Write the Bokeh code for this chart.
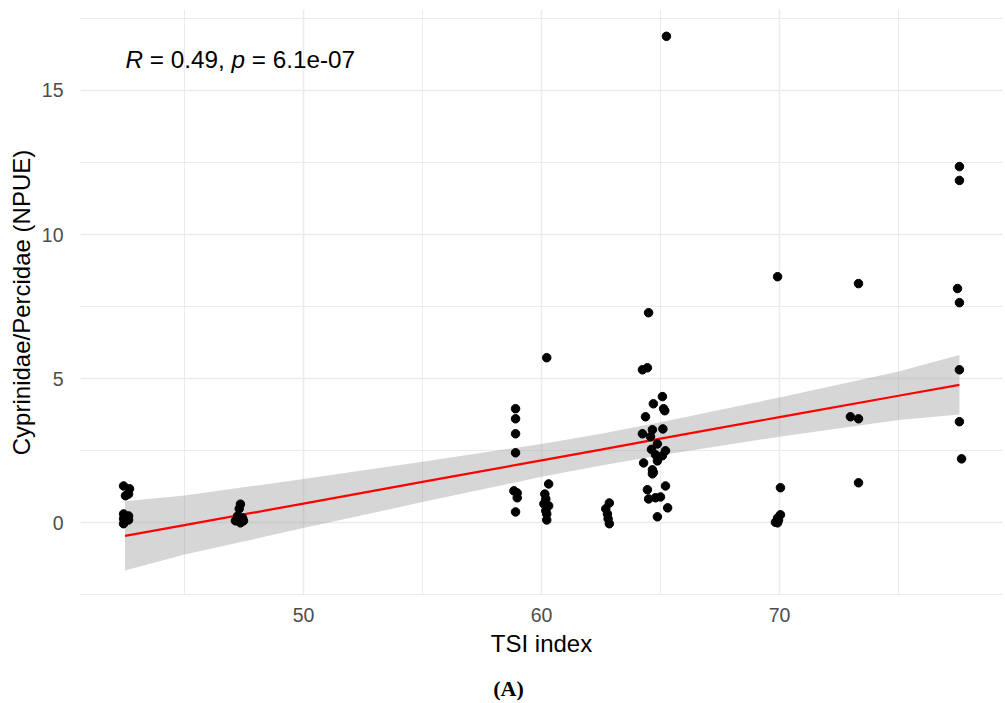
from bokeh.plotting import figure
from bokeh.models import Range1d, FixedTicker, Label, ColumnDataSource, LinearAxis
from bokeh.embed import file_html
from bokeh.resources import INLINE

# ---- data ----
tsi = [
    42.44, 42.69, 42.65, 42.52, 42.44, 42.65, 42.44, 42.65, 42.44,
    47.35, 47.30, 47.23, 47.44, 47.14, 47.35, 47.48,
    58.91, 58.91, 58.91, 58.91, 58.84, 58.98, 58.98, 58.91,
    60.22, 60.30, 60.14, 60.18, 60.10, 60.30, 60.18, 60.22, 60.22,
    62.85, 62.70, 62.77, 62.80, 62.85,
    64.50, 64.24, 64.45, 65.08, 64.70, 65.13, 65.18, 64.37, 65.10, 64.66,
    64.24, 64.58, 64.87, 65.21, 64.79, 65.08, 64.87, 64.29, 64.66, 64.66,
    65.21, 64.45, 64.50, 64.79, 65.00, 65.30, 64.87, 64.70, 64.62, 65.25,
    69.92, 70.04, 70.04, 69.92, 69.83, 69.92, 69.96,
    73.32, 72.98, 73.32, 73.32,
    77.56, 77.56, 77.48, 77.56, 77.56, 77.56, 77.65,
]
npue = [
    1.28, 1.18, 1.00, 0.94, 0.31, 0.24, 0.14, 0.10, -0.03,
    0.65, 0.49, 0.24, 0.17, 0.07, 0.00, 0.07,
    3.96, 3.61, 3.09, 2.43, 1.11, 1.04, 0.87, 0.38,
    5.73, 1.35, 1.00, 0.83, 0.66, 0.59, 0.42, 0.31, 0.10,
    0.69, 0.49, 0.31, 0.14, -0.03,
    7.29, 5.31, 5.38, 4.38, 4.13, 3.96, 3.89, 3.68, 3.26, 3.23,
    3.09, 2.99, 2.74, 2.50, 2.36, 2.33, 2.15, 2.08, 1.84, 1.70,
    1.28, 1.15, 0.83, 0.87, 0.90, 0.52, 0.21, 1.75, 2.55, 16.88,
    8.54, 1.22, 0.28, 0.17, 0.02, 0.00, 0.10,
    8.30, 3.68, 3.61, 1.39,
    12.36, 11.88, 8.13, 7.64, 5.31, 3.51, 2.22,
]

fit_x = [42.5, 45.0, 50.0, 55.0, 60.0, 62.5, 65.0, 70.0, 75.0, 77.56]
fit_y = [-0.45, -0.08, 0.67, 1.42, 2.17, 2.54, 2.92, 3.67, 4.41, 4.79]
fit_lo = [-1.65, -1.10, -0.18, 0.72, 1.60, 1.99, 2.35, 2.99, 3.57, 3.76]
fit_hi = [0.75, 0.95, 1.52, 2.12, 2.74, 3.09, 3.49, 4.35, 5.25, 5.82]

x_ticks = [50, 60, 70]
x_minor = [45, 55, 65, 75]
y_ticks = [0, 5, 10, 15]
y_minor = [-2.5, 2.5, 7.5, 12.5, 17.5]

FONT = "Liberation Sans"
NB = "\u00a0"

p = figure(width=1005, height=703,
           x_range=Range1d(40.63, 79.37), y_range=Range1d(-2.52, 17.81),
           output_backend="svg", toolbar_location=None,
           min_border_left=80, min_border_right=3,
           min_border_top=9, min_border_bottom=105)
p.outline_line_color = None
p.background_fill_color = "white"
p.border_fill_color = "white"

p.xaxis.ticker = FixedTicker(ticks=x_ticks, minor_ticks=x_minor)
p.yaxis.ticker = FixedTicker(ticks=y_ticks, minor_ticks=y_minor)

for g in (p.xgrid, p.ygrid):
    g.grid_line_color = "#EBEBEB"
    g.grid_line_width = 1.5
    g.minor_grid_line_color = "#EBEBEB"
    g.minor_grid_line_width = 1.0

for ax in (p.xaxis, p.yaxis):
    ax.axis_line_color = None
    ax.major_tick_line_color = None
    ax.minor_tick_line_color = None
    ax.major_tick_out = 0
    ax.major_tick_in = 0
    ax.major_label_text_font = FONT
    ax.major_label_text_font_size = "19.5px"
    ax.major_label_text_color = "#4D4D4D"
    ax.axis_label_text_font = FONT
    ax.axis_label_text_font_size = "24px"
    ax.axis_label_text_font_style = "normal"
    ax.axis_label_text_color = "#000000"

p.xaxis.axis_label = "TSI index"
p.yaxis.axis_label = "Cyprinidae/Percidae (NPUE)"
p.xaxis.major_label_standoff = 8
p.xaxis.axis_label_standoff = 5
p.yaxis.major_label_standoff = 13
p.yaxis.axis_label_standoff = 4

rib = ColumnDataSource(dict(x=fit_x, y=fit_y, lo=fit_lo, hi=fit_hi))
p.varea(x="x", y1="lo", y2="hi", source=rib, fill_color="#999999", fill_alpha=0.4)
p.line(x="x", y="y", source=rib, line_color="#FF0000", line_width=2.2)

pts = ColumnDataSource(dict(x=tsi, y=npue))
p.scatter(x="x", y="y", source=pts, size=8.5, fill_color="black", line_color="black")

# correlation label: italic R and p
lx, ly = 42.52, 16.08
fs = 24.3
pieces = [("R", "italic", 0.0),
          (NB + "=" + NB + "0.49," + NB, "normal", 0.722 * fs),
          ("p", "italic", (0.722 + 3.642) * fs),
          (NB + "=" + NB + "6.1e-07", "normal", (0.722 + 3.642 + 0.556) * fs)]
for txt, style, off in pieces:
    p.add_layout(Label(x=lx, y=ly, x_offset=off, text=txt, text_font=FONT,
                       text_font_size=f"{fs}px", text_font_style=style,
                       text_color="black", text_baseline="alphabetic",
                       text_align="left"))

# caption "(A)" as the label of an empty axis under the x axis
cap_ax = LinearAxis(ticker=FixedTicker(ticks=[]), axis_label="(A)" + NB * 12)
cap_ax.axis_line_color = None
cap_ax.major_tick_line_color = None
cap_ax.minor_tick_line_color = None
cap_ax.major_tick_out = 0
cap_ax.major_tick_in = 0
cap_ax.major_label_standoff = 0
cap_ax.axis_label_standoff = 16
cap_ax.axis_label_text_font = "Liberation Serif"
cap_ax.axis_label_text_font_style = "bold"
cap_ax.axis_label_text_font_size = "22px"
cap_ax.axis_label_text_color = "black"
p.add_layout(cap_ax, "below")

open("out.html", "w").write(file_html(p, INLINE))
